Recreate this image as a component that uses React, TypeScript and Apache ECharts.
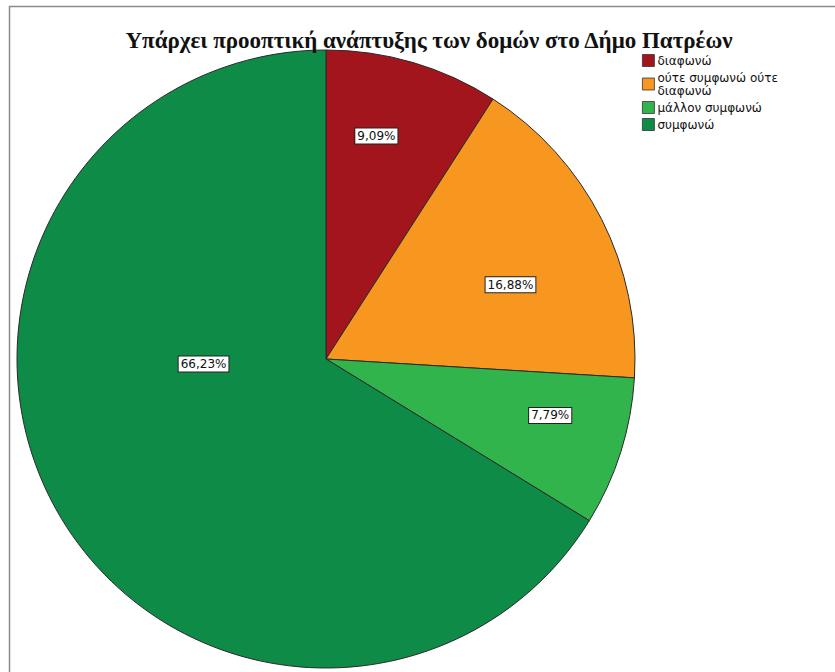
import React, { useEffect, useRef } from "react";
import * as echarts from "echarts";

const TITLE = "Υπάρχει προοπτική ανάπτυξης των δομών στο Δήμο Πατρέων";
const categories = ["διαφωνώ", "ούτε συμφωνώ ούτε διαφωνώ", "μάλλον συμφωνώ", "συμφωνώ"];
const legendLabels = ["διαφωνώ", "ούτε συμφωνώ ούτε\nδιαφωνώ", "μάλλον συμφωνώ", "συμφωνώ"];
const percentages = [9.09, 16.88, 7.79, 66.23];
const colors = ["#a2151c", "#f7971f", "#31b44b", "#0f8b48"];
// label nudges (dx, dy) relative to the default inside position
const labelShift: [number, number][] = [
  [6, -72],
  [44, -3],
  [74, 9],
  [15, -72],
];

export default function App() {
  const ref = useRef<HTMLDivElement>(null);
  useEffect(() => {
    if (!ref.current) return;
    const chart = echarts.init(ref.current, null, { renderer: "svg" });
    chart.setOption({
      animation: false,
      backgroundColor: "#ffffff",
      title: {
        text: TITLE,
        left: 424,
        top: 24,
        textAlign: "center",
        textStyle: {
          fontFamily: "Liberation Serif",
          fontWeight: "bold",
          fontSize: 23,
          color: "#111",
        },
      },
      legend: {
        orient: "vertical",
        left: 637,
        top: 49,
        itemWidth: 12,
        itemHeight: 12,
        itemGap: 4,
        icon: "rect",
        itemStyle: { borderColor: "#333", borderWidth: 0.8 },
        formatter: (name: string) => {
          const i = categories.indexOf(name);
          return i >= 0 ? legendLabels[i] : name;
        },
        textStyle: {
          fontFamily: "DejaVu Sans",
          fontSize: 12,
          color: "#111",
          lineHeight: 13,
          padding: [0, 0, 0, -2],
        },
        data: categories,
      },
      graphic: [
        {
          type: "rect",
          shape: { x: 9.5, y: 6.5, width: 900, height: 700 },
          style: { fill: "none", stroke: "#8a8a8a", lineWidth: 1.5 },
          silent: true,
        },
      ],
      series: [
        {
          type: "pie",
          center: [326, 359],
          radius: 309,
          startAngle: 90,
          clockwise: true,
          silent: true,
          emphasis: { disabled: true },
          itemStyle: { borderColor: "#2a2a2a", borderWidth: 1 },
          label: {
            show: true,
            position: "inside",
            formatter: (p: any) => p.value.toFixed(2).replace(".", ",") + "%",
            fontFamily: "DejaVu Sans",
            fontSize: 12,
            color: "#111",
            backgroundColor: "#ffffff",
            borderColor: "#222",
            borderWidth: 1,
            padding: [2, 2, 1, 2],
          },
          labelLine: { show: false },
          labelLayout: (params: any) => {
            const s = labelShift[params.dataIndex] || [0, 0];
            return { dx: s[0], dy: s[1] };
          },
          data: categories.map((name, i) => ({
            name,
            value: percentages[i],
            itemStyle: { color: colors[i] },
          })),
        },
      ],
    });
    return () => chart.dispose();
  }, []);
  return (
    <div
      ref={ref}
      style={{ position: "absolute", left: 0, top: 0, width: 835, height: 672 }}
    />
  );
}
